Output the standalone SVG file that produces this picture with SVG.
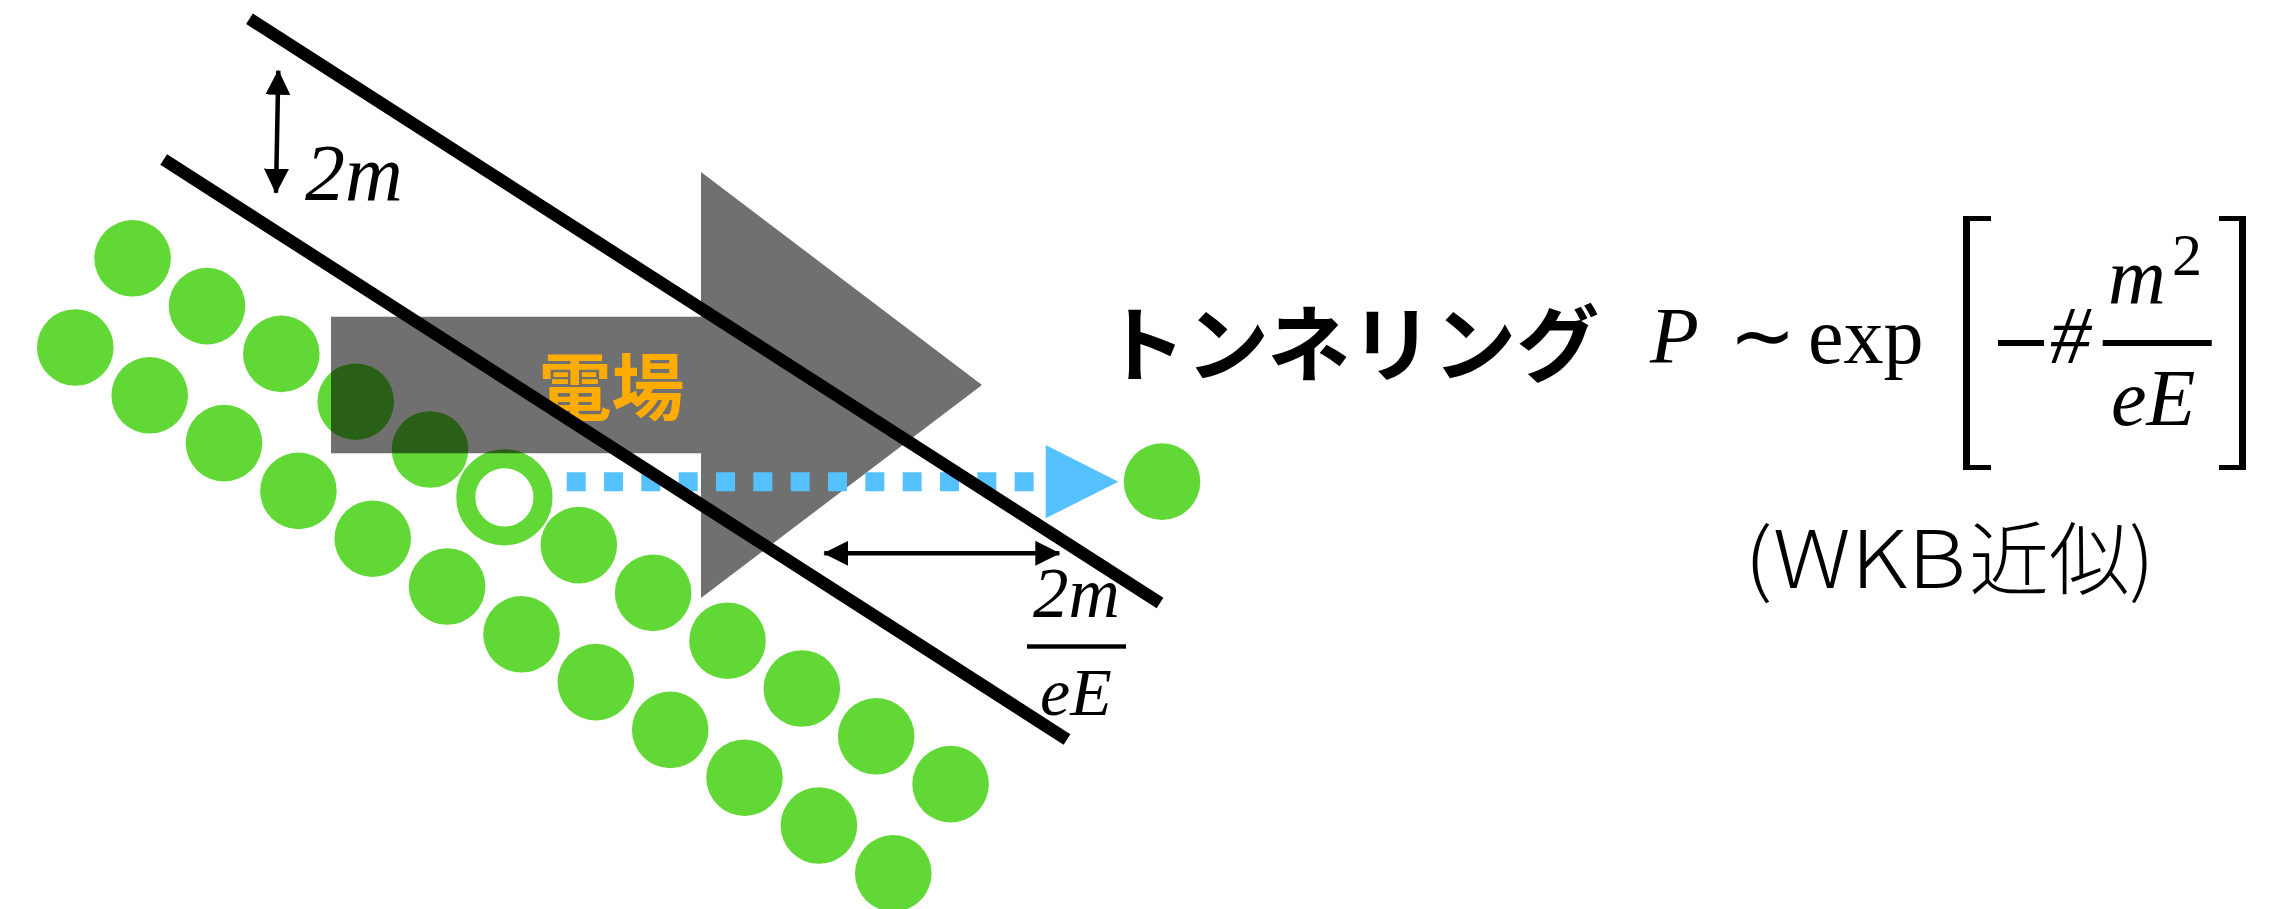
<svg xmlns="http://www.w3.org/2000/svg" width="2295" height="909" viewBox="0 0 2295 909">
<style>
.dot{fill:#61d836}
.ring{fill:none;stroke:#61d836;stroke-width:19}
.rail{stroke:#000;stroke-width:12.5;stroke-linecap:butt}
.dim{stroke:#000;stroke-width:4.5;marker-start:url(#ah);marker-end:url(#ah)}
.math{font-family:"Liberation Serif","Times New Roman",serif;fill:#000}
.it{font-style:italic}
.jp{font-family:"Noto Sans CJK JP","Noto Sans",sans-serif}
.thin{font-family:"Noto Sans CJK JP","Noto Sans",sans-serif;font-weight:300;font-size:80px}
</style>
<defs>
<marker id="ah" viewBox="0 0 25 25" refX="24" refY="12.5" markerWidth="25" markerHeight="25" markerUnits="userSpaceOnUse" orient="auto-start-reverse">
<path d="M0,0 L25,12.5 L0,25 z" fill="#000"/>
</marker>
</defs>
<rect width="2295" height="909" fill="#fff"/>
<g id="lattice">
<circle class="dot" cx="132.6" cy="258.3" r="38.3"/>
<circle class="dot" cx="207" cy="306.1" r="38.3"/>
<circle class="dot" cx="281.3" cy="353.9" r="38.3"/>
<circle class="dot" cx="355.7" cy="401.7" r="38.3"/>
<circle class="dot" cx="430" cy="449.5" r="38.3"/>
<circle class="ring" cx="504.4" cy="497.3" r="38.6"/>
<circle class="dot" cx="578.8" cy="545.1" r="38.3"/>
<circle class="dot" cx="653.1" cy="592.9" r="38.3"/>
<circle class="dot" cx="727.5" cy="640.7" r="38.3"/>
<circle class="dot" cx="801.8" cy="688.5" r="38.3"/>
<circle class="dot" cx="876.2" cy="736.3" r="38.3"/>
<circle class="dot" cx="950.6" cy="784.1" r="38.3"/>
<circle class="dot" cx="75.3" cy="347.5" r="38.3"/>
<circle class="dot" cx="149.7" cy="395.3" r="38.3"/>
<circle class="dot" cx="224" cy="443.1" r="38.3"/>
<circle class="dot" cx="298.4" cy="490.9" r="38.3"/>
<circle class="dot" cx="372.7" cy="538.7" r="38.3"/>
<circle class="dot" cx="447.1" cy="586.5" r="38.3"/>
<circle class="dot" cx="521.5" cy="634.3" r="38.3"/>
<circle class="dot" cx="595.8" cy="682.1" r="38.3"/>
<circle class="dot" cx="670.2" cy="729.9" r="38.3"/>
<circle class="dot" cx="744.5" cy="777.7" r="38.3"/>
<circle class="dot" cx="818.9" cy="825.5" r="38.3"/>
<circle class="dot" cx="893.3" cy="873.3" r="38.3"/>
</g>
<g id="field">
<polygon points="331,316.7 701,316.7 701,172 982,385 701,598 701,453.3 331,453.3" fill="#000" fill-opacity="0.56"/>
<text class="jp" x="538.5" y="414" font-size="73" font-weight="700" fill="#ffab00">電場</text>
</g>
<g id="tunnel">
<line x1="566.7" y1="481.7" x2="1034" y2="481.7" stroke="#56c1ff" stroke-width="19" stroke-dasharray="19 18.33"/>
<polygon points="1045.7,445 1045.7,518.3 1118.3,481.7" fill="#56c1ff"/>
<circle class="dot" cx="1162" cy="481.6" r="38.3"/>
</g>
<g id="rails">
<line class="rail" x1="249.5" y1="18.8" x2="1160" y2="603"/>
<line class="rail" x1="163.7" y1="159.5" x2="1067" y2="739.5"/>
</g>
<g id="connectors">
<line class="dim" x1="278.3" y1="70.7" x2="276" y2="192.7"/>
<line class="dim" x1="824.3" y1="553.3" x2="1059.3" y2="553.3"/>
</g>
<g id="gap-label">
<text class="math it" x="305" y="200" font-size="80">2m</text>
</g>
<g id="width-label">
<text class="math it" x="1033" y="617" font-size="71">2m</text>
<rect x="1027" y="644.3" width="99" height="4.4" fill="#000"/>
<text class="math it" x="1040" y="715" font-size="68">eE</text>
</g>
<g id="formula">
<text class="jp" x="1103" y="375" font-size="83" font-weight="700">トンネリング</text>
<text class="math it" x="1650" y="363" font-size="80">P</text>
<text class="math" x="1729" y="363" font-size="80">∼</text>
<text class="math" x="1808" y="363" font-size="80">exp</text>
<path d="M1963,216 H1991 V221 H1970 V465 H1991 V470 H1963 Z" fill="#000"/>
<path d="M2246,216 H2219 V221 H2239 V465 H2219 V470 H2246 Z" fill="#000"/>
<rect x="1998" y="340" width="46" height="6" fill="#000"/>
<text class="math it" x="2050" y="363" font-size="82">#</text>
<text class="math it" x="2108" y="303" font-size="80">m</text>
<text class="math" x="2172" y="275" font-size="60">2</text>
<rect x="2102.7" y="340" width="109" height="6" fill="#000"/>
<text class="math it" x="2111" y="425" font-size="80">eE</text>
</g>
<g id="approx">
<text class="thin" x="1744" y="588" textLength="222" lengthAdjust="spacingAndGlyphs">(WKB</text>
<text class="thin" x="1969" y="588">近似</text>
<text class="thin" x="2129" y="588">)</text>
</g>
</svg>
